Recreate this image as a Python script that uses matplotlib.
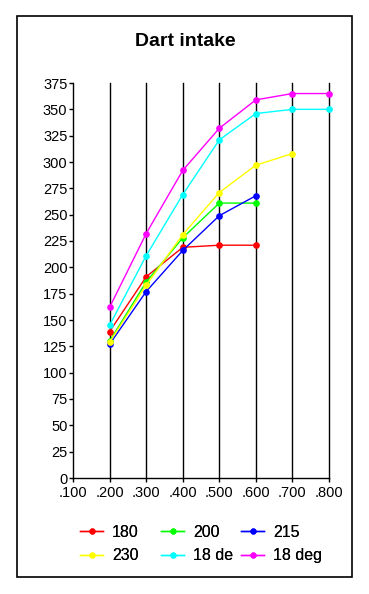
import numpy as np
import matplotlib
matplotlib.use('Agg')
import matplotlib.pyplot as plt
from matplotlib.patches import Rectangle

# data
x_values = [0.2, 0.3, 0.4, 0.5, 0.6, 0.7, 0.8]

y_180 = [139, 191, 219, 221, 221]
y_200 = [130, 186, 228, 261, 261]
y_215 = [127, 177, 216, 249, 268]
y_230 = [129, 183, 231, 271, 297, 308]
y_18de = [145, 211, 269, 321, 346, 350, 350]
y_18deg = [162, 232, 292, 332, 359, 365, 365]

series = [('180', y_180, '#ff0000'),
          ('200', y_200, '#00ff00'),
          ('215', y_215, '#0000ff'),
          ('230', y_230, '#ffff00'),
          ('18 de', y_18de, '#00ffff'),
          ('18 deg', y_18deg, '#ff00ff')]

x_ticks = [0.1, 0.2, 0.3, 0.4, 0.5, 0.6, 0.7, 0.8]
x_tick_labels = ['.100', '.200', '.300', '.400', '.500', '.600', '.700', '.800']
y_ticks = list(range(0, 376, 25))

plt.rcParams['font.family'] = ['Liberation Sans', 'DejaVu Sans']

fig = plt.figure(figsize = (3.69, 5.94), dpi = 100)
fig.patch.set_facecolor('white')

# outer frame round the whole chart
fig.patches.append(Rectangle((16.5 / 369, 17 / 594), (352 - 16.5) / 369, (578 - 17) / 594,
                             transform = fig.transFigure, fill = False,
                             edgecolor = 'black', linewidth = 1.2))

ax = fig.add_axes([73 / 369, (594 - 478) / 594, (329 - 73) / 369, (478 - 83) / 594])

handles = []
for name, values, color in series:
    line, = ax.plot(x_values[:len(values)], values, color = color, linewidth = 1,
                    marker = 'o', markersize = 3.8, label = name, clip_on = False, zorder = 3)
    handles.append(line)

ax.set_xlim(0.1, 0.8)
ax.set_ylim(0, 375)
ax.set_xticks(x_ticks)
ax.set_xticklabels(x_tick_labels, fontsize = 10.5)
ax.set_yticks(y_ticks)
ax.set_yticklabels([str(v) for v in y_ticks], fontsize = 10.5)
ax.tick_params(direction = 'out', length = 3, width = 1, colors = 'black')
ax.tick_params(axis = 'y', pad = 1)
ax.tick_params(axis = 'x', pad = 2.5)

ax.spines['top'].set_visible(False)
ax.spines['right'].set_visible(False)
ax.spines['left'].set_linewidth(1)
ax.spines['bottom'].set_linewidth(1)

for xv in x_ticks[1:]:
    ax.axvline(xv, color = 'black', linewidth = 1, zorder = 0.5, clip_on = False)

fig.text(185 / 369, 1 - 41 / 594, 'Dart intake', ha = 'center', va = 'center',
         fontsize = 14, fontweight = 'bold')

# the reference legend has equal-width columns filled row by row,
# so each column is its own little legend
col_x = [80, 161, 241]
for c in range(3):
    idx = [c, c + 3]
    leg = fig.legend([handles[i] for i in idx], [series[i][0] for i in idx],
                     loc = 'center left', bbox_to_anchor = (col_x[c] / 369, 1 - 544 / 594),
                     frameon = False, fontsize = 11.5, handlelength = 1.45,
                     handletextpad = 0.55, labelspacing = 0.55, borderpad = 0,
                     borderaxespad = 0, markerscale = 0.9)
    fig.add_artist(leg)

fig.savefig('out.png', dpi = 100)
